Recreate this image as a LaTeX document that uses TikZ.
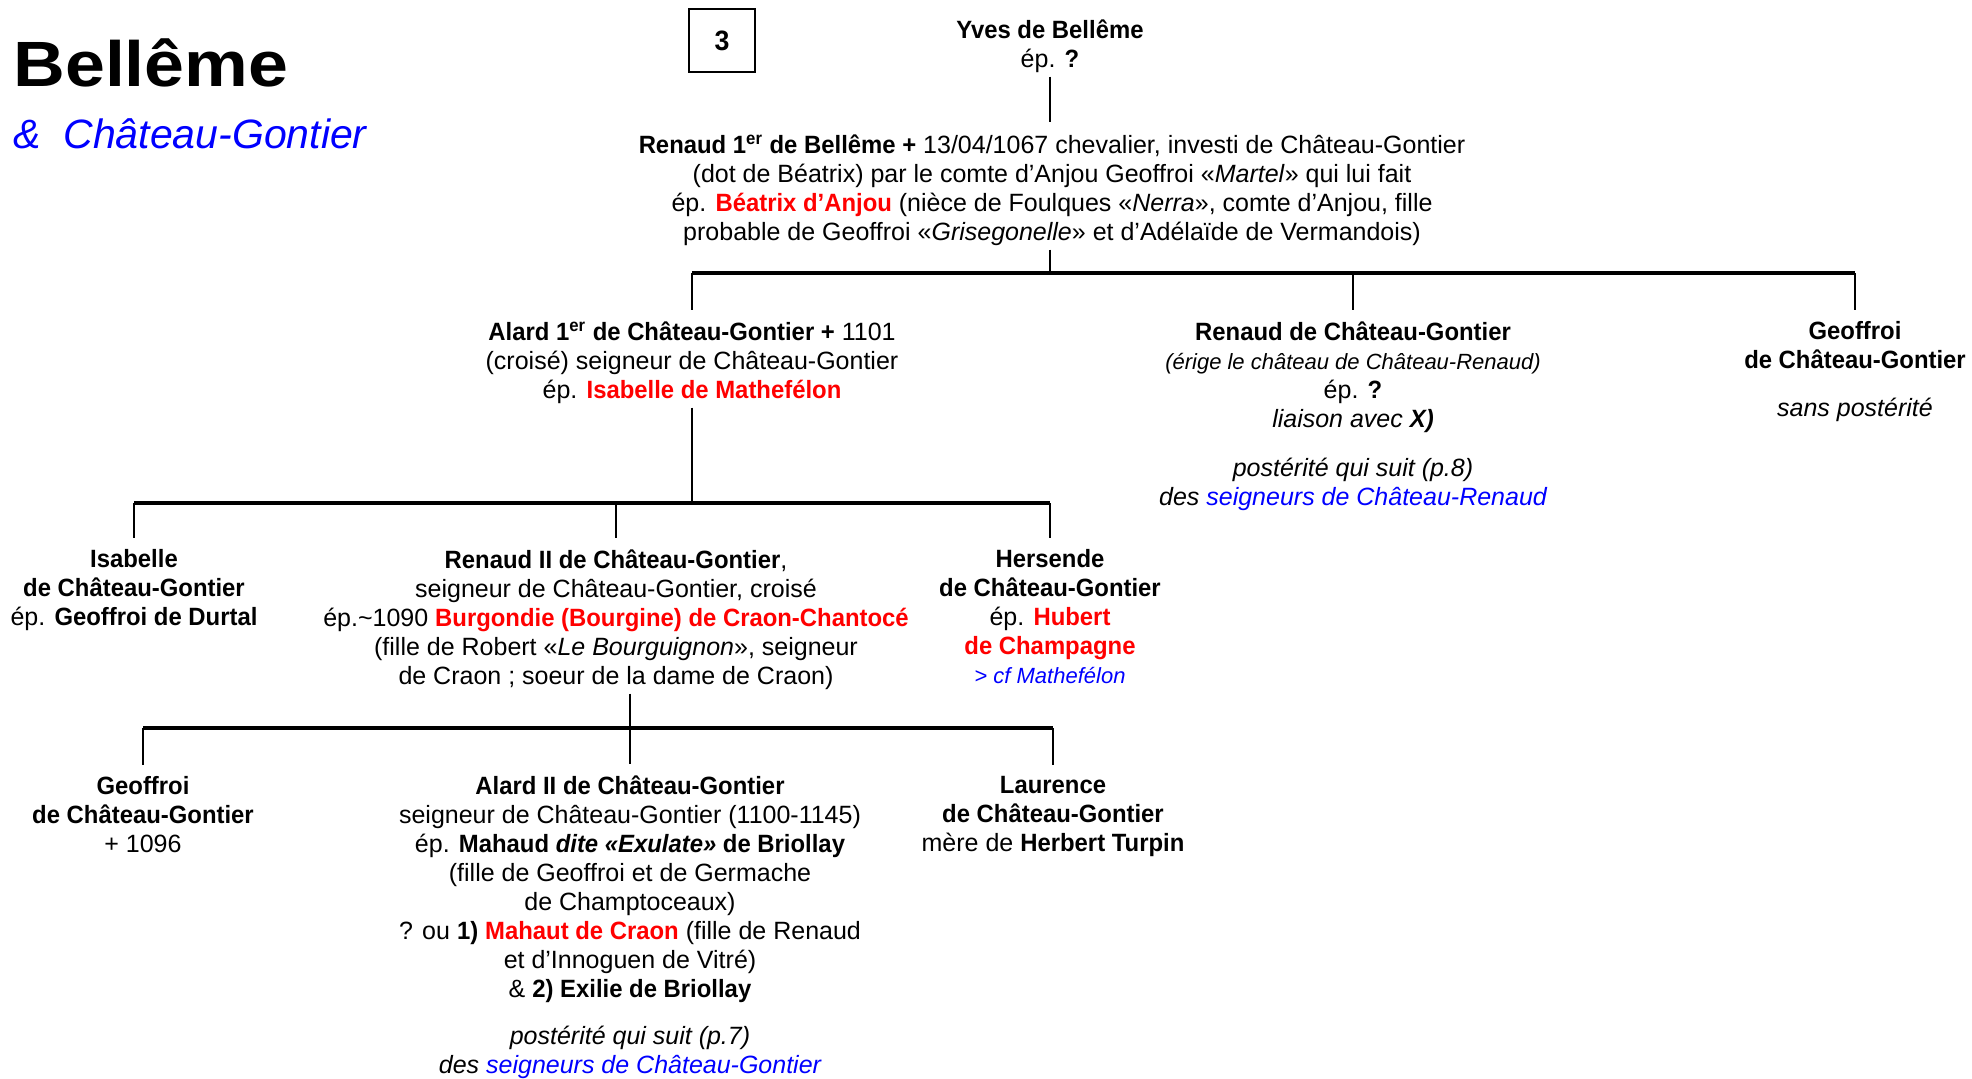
\documentclass[tikz,border=0pt]{standalone}
\usepackage{fontspec}
\setmainfont{Liberation Sans}[BoldFeatures={FakeStretch=0.955},BoldItalicFeatures={FakeStretch=0.955}]
\newfontfamily\titlefont{Liberation Sans}[BoldFeatures={FakeStretch=1.12}]
\usepackage{xcolor}
\usetikzlibrary{positioning}

\begin{document}
\begin{tikzpicture}[x=0.5pt,y=-0.5pt,
    person/.style={align=center,inner sep=0pt,anchor=north,font=\fontsize{12.5}{14.5}\selectfont},
    bar/.style={line width=1.6pt},
    drop/.style={line width=1.1pt,shorten >=5.5pt},
    stem/.style={line width=1.1pt,shorten <=2pt}]
  \useasboundingbox (0,0) rectangle (1972,1078);

  \node[anchor=base west,inner sep=0pt,font=\titlefont\fontsize{32}{36}\selectfont\bfseries] (title) at (13,86) {Bellême};
  \node[anchor=base west,inner sep=0pt,font=\fontsize{20.5}{24}\selectfont\itshape,text=blue] (subtitle) at (13,148) {\&~~Château-Gontier};
  \node[draw,line width=0.6pt,minimum width=33pt,minimum height=31.5pt,font=\fontsize{14}{16}\selectfont\bfseries] (page) at (722,40.5) {3};

  \node[person] (yves) at (1050,19) {\textbf{Yves de Bellême}\\ ép. \textbf{?}};
  \node[person] (renaud1) at (1052,134) {\textbf{Renaud 1\textsuperscript{er} de Bellême +} 13/04/1067 chevalier, investi de Château-Gontier\\
    (dot de Béatrix) par le comte d’Anjou Geoffroi «\textit{Martel}» qui lui fait\\
    ép. \textcolor{red}{\textbf{Béatrix d’Anjou}} (nièce de Foulques «\textit{Nerra}», comte d’Anjou, fille\\
    probable de Geoffroi «\textit{Grisegonelle}» et d’Adélaïde de Vermandois)};

  \node[person] (alard1) at (692,321) {\textbf{Alard 1\textsuperscript{er} de Château-Gontier +} 1101\\
    (croisé) seigneur de Château-Gontier\\
    ép. \textcolor{red}{\textbf{Isabelle de Mathefélon}}};
  \node[person] (renaudcg) at (1353,321) {\textbf{Renaud de Château-Gontier}\\
    {\fontsize{11}{14.5}\selectfont\itshape (érige le château de Château-Renaud)}\\
    ép. \textbf{?}\\
    \textit{liaison avec \textbf{X)}}\\[10pt]
    \textit{postérité qui suit (p.8)}\\
    \textit{des \textcolor{blue}{seigneurs de Château-Renaud}}};
  \node[person] (geoffroi1) at (1855,321) {\textbf{Geoffroi}\\ \textbf{de Château-Gontier}\\[9.5pt] \textit{sans postérité}};

  \node[person] (isabelle) at (134,549) {\textbf{Isabelle}\\ \textbf{de Château-Gontier}\\ ép. \textbf{Geoffroi de Durtal}};
  \node[person] (renaud2) at (616,549) {\textbf{Renaud II de Château-Gontier},\\
    seigneur de Château-Gontier, croisé\\
    ép.\textasciitilde1090 \textcolor{red}{\textbf{Burgondie (Bourgine) de Craon-Chantocé}}\\
    (fille de Robert «\textit{Le Bourguignon}», seigneur\\
    de Craon ; soeur de la dame de Craon)};
  \node[person] (hersende) at (1050,549) {\textbf{Hersende}\\ \textbf{de Château-Gontier}\\
    ép. \textcolor{red}{\textbf{Hubert}}\\ \textcolor{red}{\textbf{de Champagne}}\\
    {\fontsize{11}{14.5}\selectfont\itshape\color{blue}> cf Mathefélon}};

  \node[person] (geoffroi2) at (143,776) {\textbf{Geoffroi}\\ \textbf{de Château-Gontier}\\ + 1096};
  \node[person] (alard2) at (630,775) {\textbf{Alard II de Château-Gontier}\\
    seigneur de Château-Gontier (1100-1145)\\
    ép. \textbf{Mahaud \textit{dite «Exulate»} de Briollay}\\
    (fille de Geoffroi et de Germache\\
    de Champtoceaux)\\
    ? ou \textbf{1)} \textcolor{red}{\textbf{Mahaut de Craon}} (fille de Renaud\\
    et d’Innoguen de Vitré)\\
    \& \textbf{2) Exilie de Briollay}\\[9pt]
    \textit{postérité qui suit (p.7)}\\
    \textit{des \textcolor{blue}{seigneurs de Château-Gontier}}};
  \node[person] (laurence) at (1053,776) {\textbf{Laurence}\\ \textbf{de Château-Gontier}\\ mère de \textbf{Herbert Turpin}};

  \coordinate (lvl1) at (0,273);
  \coordinate (lvl2) at (0,503);
  \coordinate (lvl3) at (0,728);

  \draw[stem,shorten >=6pt] (yves.south) -- (yves.south |- renaud1.north);
  \draw[stem] (renaud1.south -| yves.south) -- (yves.south |- lvl1);
  \draw[bar] (alard1.north |- lvl1) -- (geoffroi1.north |- lvl1);
  \foreach \n in {alard1,renaudcg,geoffroi1}
    \draw[drop] (\n.north |- lvl1) -- (\n.north);

  \draw[stem] (alard1.south) -- (alard1.south |- lvl2);
  \draw[bar] (isabelle.north |- lvl2) -- (hersende.north |- lvl2);
  \foreach \n in {isabelle,renaud2,hersende}
    \draw[drop] (\n.north |- lvl2) -- (\n.north);

  \draw[stem] (renaud2.south -| alard2.north) -- (alard2.north |- lvl3);
  \draw[bar] (geoffroi2.north |- lvl3) -- (laurence.north |- lvl3);
  \foreach \n in {geoffroi2,alard2,laurence}
    \draw[drop] (\n.north |- lvl3) -- (\n.north);
\end{tikzpicture}
\end{document}
